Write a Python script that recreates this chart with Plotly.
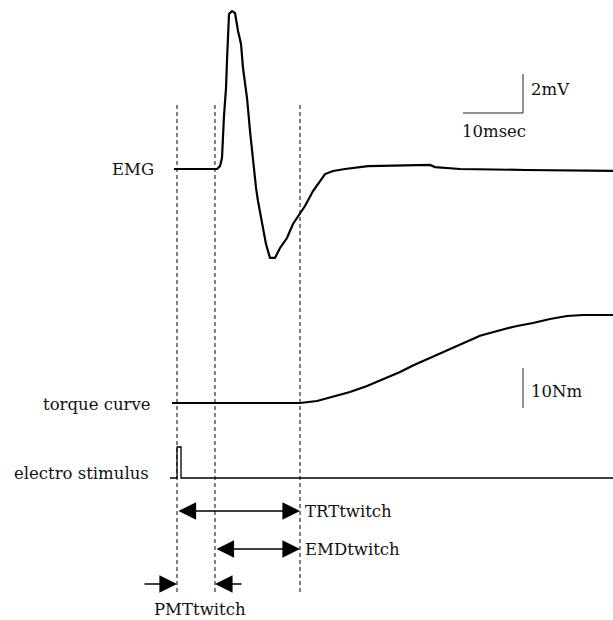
import plotly.graph_objects as go

# ---------------- data ----------------
# EMG (time in ms from stimulus, amplitude in mV)
emg_t = [-0.5, 6.67, 7.17, 7.5, 7.83, 8.17, 8.33, 8.67, 9.17, 9.67, 10.17, 10.67, 11.0,
         11.67, 12.17, 12.67, 13.17, 13.5, 14.17, 14.83, 15.5, 16.33, 17.17, 18.33, 19.33,
         20.5, 21.33, 22.67, 23.83, 24.67, 26.0, 28.0, 31.83, 42.17, 43.0, 47.17, 58.0, 72.67]
emg_mv = [0.0, 0.0, 0.15, 0.56, 2.72, 4.15, 5.54, 7.95, 8.10, 8.0, 7.08, 6.41, 5.18,
          3.64, 1.95, 0.41, -0.97, -1.64, -2.67, -3.85, -4.56, -4.56, -4.05, -3.54, -2.82,
          -2.31, -1.90, -1.13, -0.62, -0.26, -0.10, 0.0, 0.15, 0.21, 0.10, 0.0, -0.05, -0.10]

# Torque (time in ms, torque in Nm)
torque_t = [-0.83, 20.5, 23.33, 26.0, 28.83, 31.67, 34.33, 37.17, 39.33, 42.67, 45.5,
            48.33, 50.5, 53.83, 56.67, 59.33, 62.17, 65.0, 67.67, 72.67]
torque_nm = [0.0, 0.0, 0.5, 1.5, 2.75, 4.25, 6.0, 7.75, 9.4, 11.6, 13.6,
             15.4, 16.8, 18.2, 19.25, 20.0, 21.0, 21.75, 22.0, 22.0]

# Electrical stimulus (time in ms, arbitrary units)
stim_t = [-1.17, 0.0, 0.0, 0.67, 0.67, 72.67]
stim_v = [0, 0, 1, 1, 0, 0]

# Event markers (ms)
t_stim = 0.0           # stimulus
t_emg_onset = 6.33     # EMG onset
t_torque_onset = 20.5  # torque onset

# Scale bars
scale_ms = 10
scale_mv = 2
scale_nm = 10

# ---------------- layout constants ----------------
W, H = 613, 620
PX_PER_MS = 6.0
X0_PX = 177
EMG_PX_PER_MV, EMG_BASE = 19.5, 169
TQ_PX_PER_NM, TQ_BASE = 4.0, 403
ST_PX_PER_U, ST_BASE = 31.0, 478


def rng(p, b):
    return [-(H - b) / p, b / p]


def t_of(px):
    return (px - X0_PX) / PX_PER_MS


FONT = dict(family="DejaVu Serif", size=16.5, color="#111111")

fig = go.Figure()
fig.add_trace(go.Scatter(x=emg_t, y=emg_mv, mode="lines", yaxis="y",
                         line=dict(color="black", width=2.2), showlegend=False))
fig.add_trace(go.Scatter(x=torque_t, y=torque_nm, mode="lines", yaxis="y2",
                         line=dict(color="black", width=2.2), showlegend=False))
fig.add_trace(go.Scatter(x=stim_t, y=stim_v, mode="lines", yaxis="y3",
                         line=dict(color="black", width=1.3), showlegend=False))

shapes = []
for tv in (t_stim, t_emg_onset, t_torque_onset):
    shapes.append(dict(type="line", xref="x", yref="y4", x0=tv, x1=tv, y0=105, y1=592,
                       line=dict(color="black", width=1, dash="4px,3px")))

# scale bars
sb_t1 = t_of(523)
sb_t0 = sb_t1 - scale_ms
sb_mv0 = (EMG_BASE - 113) / EMG_PX_PER_MV
shapes.append(dict(type="line", xref="x", yref="y", x0=sb_t0, x1=sb_t1, y0=sb_mv0, y1=sb_mv0,
                   line=dict(color="#222222", width=1)))
shapes.append(dict(type="line", xref="x", yref="y", x0=sb_t1, x1=sb_t1, y0=sb_mv0,
                   y1=sb_mv0 + scale_mv, line=dict(color="#222222", width=1)))
sb_nm0 = (TQ_BASE - 408) / TQ_PX_PER_NM
shapes.append(dict(type="line", xref="x", yref="y2", x0=sb_t1, x1=sb_t1, y0=sb_nm0,
                   y1=sb_nm0 + scale_nm, line=dict(color="#222222", width=1)))

ann = []


def label(text, xpx, ypx, anchor):
    ann.append(dict(text=text, xref="x", yref="y4", x=t_of(xpx), y=ypx, xanchor=anchor,
                    yanchor="middle", showarrow=False, font=FONT))


label("EMG", 156, 169, "right")
label("torque curve", 153, 404, "right")
label("electro stimulus", 151, 473, "right")
label("TRTtwitch", 303, 511, "left")
label("EMDtwitch", 303, 549, "left")
label("PMTtwitch", 200, 609, "center")
label("2mV", 529, 89, "left")
label("10msec", 460, 131, "left")
label("10Nm", 529, 391, "left")


def arrow(t_head, t_tail, ypx, both):
    ann.append(dict(text="", xref="x", yref="y4", x=t_head, y=ypx, axref="x", ayref="y4",
                    ax=t_tail, ay=ypx, showarrow=True, arrowhead=2, arrowsize=2.2,
                    arrowwidth=1.6, arrowcolor="black", standoff=0, startstandoff=0,
                    arrowside="end+start" if both else "end",
                    startarrowhead=2, startarrowsize=2.2))


arrow(t_torque_onset, t_stim, 511, True)
arrow(t_torque_onset, t_emg_onset, 549, True)
arrow(t_stim, t_of(143), 584, False)
arrow(t_emg_onset, t_of(243), 584, False)

hidden = dict(visible=False, showgrid=False, zeroline=False, fixedrange=True)
fig.update_layout(
    width=W, height=H, margin=dict(l=0, r=0, t=0, b=0),
    paper_bgcolor="white", plot_bgcolor="white",
    xaxis=dict(range=[t_of(0), t_of(W)], **hidden),
    yaxis=dict(range=rng(EMG_PX_PER_MV, EMG_BASE), **hidden),
    yaxis2=dict(range=rng(TQ_PX_PER_NM, TQ_BASE), overlaying="y", **hidden),
    yaxis3=dict(range=rng(ST_PX_PER_U, ST_BASE), overlaying="y", **hidden),
    yaxis4=dict(range=[H, 0], overlaying="y", **hidden),
    shapes=shapes, annotations=ann, showlegend=False,
)

fig.write_html("out.html")
